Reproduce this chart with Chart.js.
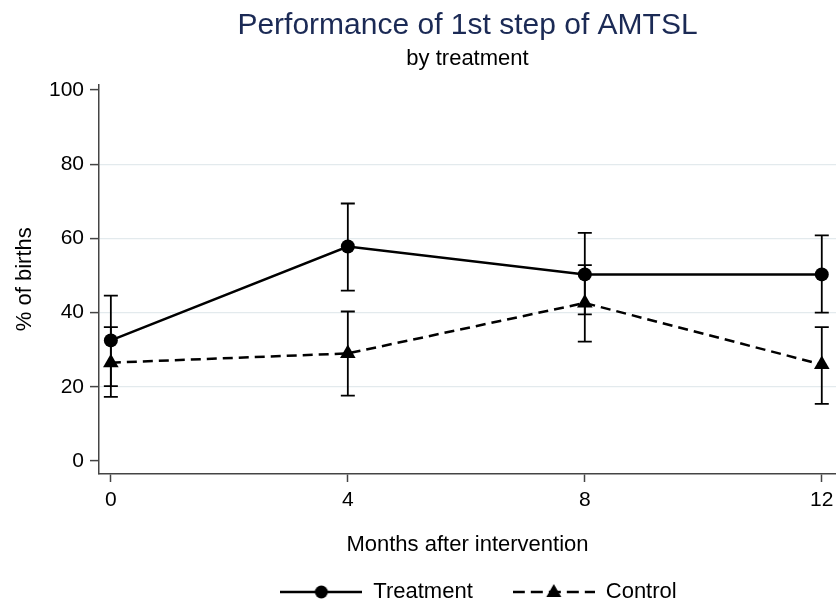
<!DOCTYPE html>
<html>
<head>
<meta charset="utf-8">
<script src="https://cdn.jsdelivr.net/npm/chart.js@4/dist/chart.umd.min.js"></script>
<style>
  html,body{margin:0;padding:0;background:#fff;}
  #wrap{width:836px;height:603px;}
</style>
</head>
<body>
<div id="wrap"><canvas id="chart" width="836" height="603"></canvas></div>
<script>
// months after intervention (x categories)
const months = [0, 4, 8, 12];
const xTicks = [0, 4, 8, 12];
const yTicks = [0, 20, 40, 60, 80, 100];
const gridAt = [20, 40, 60, 80];

// % of births
const treatment   = [32.5, 57.8, 50.3, 50.3];
const treatmentLo = [20.2, 45.9, 39.5, 40.0];
const treatmentHi = [44.6, 69.4, 61.5, 60.8];
const control     = [26.5, 29.0, 42.6, 26.0];
const controlLo   = [17.3, 17.6, 32.2, 15.4];
const controlHi   = [36.1, 40.3, 52.8, 36.1];

const FONT = "'Liberation Sans', Arial, sans-serif";
const AXIS = "#444";

function swatch(dash, marker){
  const c=document.createElement("canvas");
  c.width=82; c.height=22;
  const g=c.getContext("2d");
  g.strokeStyle="#000"; g.lineWidth=2.5; g.setLineDash(dash);
  g.beginPath(); g.moveTo(0,11); g.lineTo(82,11); g.stroke();
  g.setLineDash([]); g.fillStyle="#000";
  g.beginPath();
  if(marker==="circle") g.arc(41,11,6.5,0,Math.PI*2);
  else { g.moveTo(41,3); g.lineTo(48.5,16); g.lineTo(33.5,16); g.closePath(); }
  g.fill();
  return c;
}

const pts = (ys) => months.map((m,i)=>({x:m,y:ys[i]}));

// vertical CI bars with caps, placed through the chart scales
const errorBars = {
  id:"errorBars",
  afterDatasetsDraw(chart){
    const {ctx, scales:{x,y}} = chart;
    const sets = [[treatmentLo,treatmentHi],[controlLo,controlHi]];
    ctx.save();
    ctx.strokeStyle="#000"; ctx.lineWidth=1.8;
    sets.forEach(([lo,hi])=>{
      months.forEach((m,i)=>{
        const px=x.getPixelForValue(m), y1=y.getPixelForValue(lo[i]), y2=y.getPixelForValue(hi[i]);
        ctx.beginPath();
        ctx.moveTo(px,y1); ctx.lineTo(px,y2);
        ctx.moveTo(px-7,y1); ctx.lineTo(px+7,y1);
        ctx.moveTo(px-7,y2); ctx.lineTo(px+7,y2);
        ctx.stroke();
      });
    });
    ctx.restore();
  }
};

// the original centres its legend a little right of the plot centre
const legendNudge = {
  id:"legendNudge",
  afterLayout(chart){
    if(chart.legend){ chart.legend.left+=11; chart.legend.right+=11; }
  }
};

new Chart(document.getElementById("chart"),{
  type:"line",
  data:{datasets:[
    {label:"Treatment",data:pts(treatment),borderColor:"#000",backgroundColor:"#000",borderWidth:2.5,
     pointStyle:"circle",pointRadius:7,pointBorderWidth:0,tension:0},
    {label:"Control",data:pts(control),borderColor:"#000",backgroundColor:"#000",borderWidth:2.5,borderDash:[10,6],
     pointStyle:"triangle",pointRadius:9,pointBorderWidth:0,tension:0}
  ]},
  options:{
    responsive:false,
    animation:false,
    devicePixelRatio:1,
    layout:{autoPadding:false,padding:{top:0,left:0,right:0,bottom:-10}},
    plugins:{
      title:{display:true,fullSize:false,text:"Performance of 1st step of AMTSL",color:"#1b2a55",
        font:{family:FONT,size:30,weight:"normal"},padding:{top:8,bottom:2}},
      subtitle:{display:true,fullSize:false,text:"by treatment",color:"#000",
        font:{family:FONT,size:22,weight:"normal"},padding:{top:0,bottom:12}},
      legend:{position:"bottom",fullSize:false,
        labels:{usePointStyle:true,pointStyleWidth:82,padding:40,color:"#000",
          font:{family:FONT,size:22},
          generateLabels:()=>[
            {text:"Treatment",pointStyle:swatch([],"circle"),fillStyle:"#000",strokeStyle:"#000",lineWidth:0,datasetIndex:0},
            {text:"Control",pointStyle:swatch([12,6],"triangle"),fillStyle:"#000",strokeStyle:"#000",lineWidth:0,datasetIndex:1}
          ]}},
      tooltip:{enabled:false}
    },
    scales:{
      x:{type:"linear",min:-0.2,max:12.24,
        afterBuildTicks:s=>{s.ticks=xTicks.map(v=>({value:v}));},
        afterFit:s=>{s.height=67;s.paddingRight=0;s.paddingLeft=0;},
        grid:{drawOnChartArea:false,tickLength:8,tickColor:AXIS,tickWidth:1.5},
        border:{color:AXIS,width:1.5},
        ticks:{color:"#000",font:{family:FONT,size:21},padding:6,maxRotation:0},
        title:{display:true,text:"Months after intervention",color:"#000",
          font:{family:FONT,size:22},padding:{top:18,bottom:-17.5}}
      },
      y:{min:-3.5,max:101.5,
        afterBuildTicks:s=>{s.ticks=yTicks.map(v=>({value:v}));},
        afterFit:s=>{s.width=99;},
        grid:{color:c=>gridAt.includes(c.tick&&c.tick.value)?"#e3eaed":"rgba(0,0,0,0)",lineWidth:1.2,
          tickLength:9,tickColor:AXIS,tickWidth:1.5},
        border:{color:AXIS,width:1.5},
        ticks:{color:"#000",font:{family:FONT,size:21},padding:6},
        title:{display:true,text:"% of births",color:"#000",
          font:{family:FONT,size:22},padding:{top:12,bottom:0}}
      }
    }
  },
  plugins:[errorBars,legendNudge]
});
</script>
</body>
</html>
